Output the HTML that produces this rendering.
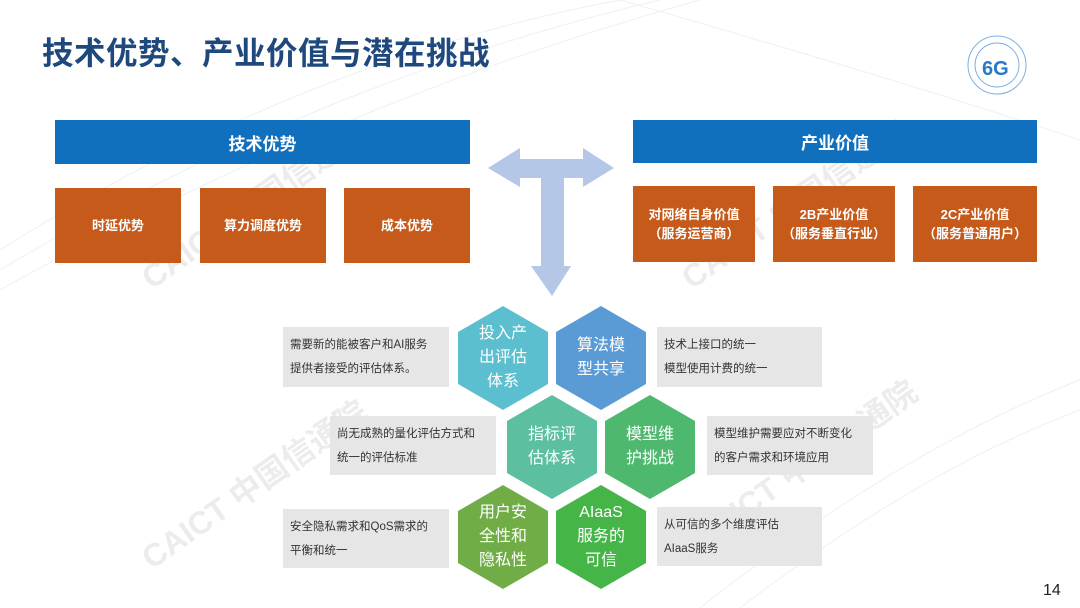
<!DOCTYPE html>
<html><head><meta charset="utf-8"><style>
html,body{margin:0;padding:0;background:#fff;}
body{width:1080px;height:608px;position:relative;overflow:hidden;font-family:"Liberation Sans","Noto Sans CJK SC",sans-serif;}
.a{position:absolute;box-sizing:border-box;}
.title{left:42px;top:28px;font-size:31.5px;font-weight:bold;color:#1f497d;letter-spacing:0.5px;}
.bar{background:#1070bd;color:#fff;font-weight:bold;font-size:17px;display:flex;align-items:center;justify-content:center;}
.or{background:#c55a1a;color:#fff;font-weight:bold;font-size:13px;display:flex;align-items:center;justify-content:center;text-align:center;line-height:19px;}
.gb{background:#e7e6e6;color:#333;font-size:11.5px;line-height:24px;padding:6px 0 0 7px;}
.ht{position:absolute;color:#fff;font-size:16px;line-height:24px;text-align:center;width:90px;}
.wm{position:absolute;color:rgba(160,160,170,0.2);font-weight:bold;font-size:32px;transform:rotate(-35deg);white-space:nowrap;}
</style></head><body>
<svg class="a" style="left:0;top:0" width="1080" height="608">
<g stroke="#edf0f5" stroke-width="1" fill="none">
<path d="M0 250 Q300 60 620 0"/><path d="M0 270 Q320 80 660 0"/><path d="M0 290 Q340 100 700 0"/>
<path d="M700 608 Q900 450 1080 380"/><path d="M740 608 Q920 470 1080 410"/>
<path d="M620 0 Q900 80 1080 140"/>
</g>
<polygon fill="#b4c7e7" points="488,168 520,148 520,159 583,159 583,148 614,168 583,187 583,178 564,178 564,266 571,266 552,296 531,266 541,266 541,178 520,178 520,187"/>
<g>
<polygon fill="#5bbfcf" points="503,306 548,332 548,384 503,410 458,384 458,332"/>
<polygon fill="#5b9bd5" points="601,306 646,332 646,384 601,410 556,384 556,332"/>
<polygon fill="#5bbfa0" points="552,395 597,421 597,473 552,499 507,473 507,421"/>
<polygon fill="#4db86e" points="650,395 695,421 695,473 650,499 605,473 605,421"/>
<polygon fill="#70ad47" points="503,485 548,511 548,563 503,589 458,563 458,511"/>
<polygon fill="#45b548" points="601,485 646,511 646,563 601,589 556,563 556,511"/>
</g>
<g fill="none" stroke="#7fb0e0" stroke-width="1">
<circle cx="997" cy="65" r="29"/><circle cx="997" cy="65" r="22"/>
</g>
<text x="982" y="75" font-family="Liberation Sans" font-weight="bold" font-size="20" fill="#2a78c8">6G</text>
</svg>
<div class="wm" style="left:120px;top:180px;">CAICT 中国信通院</div>
<div class="wm" style="left:660px;top:180px;">CAICT 中国信通院</div>
<div class="wm" style="left:120px;top:460px;">CAICT 中国信通院</div>
<div class="wm" style="left:670px;top:440px;">CAICT 中国信通院</div>
<div class="a title">技术优势、产业价值与潜在挑战</div>
<div class="a bar" style="left:55px;top:120px;width:415px;height:44px;">技术优势</div>
<div class="a bar" style="left:633px;top:120px;width:404px;height:43px;">产业价值</div>
<div class="a or" style="left:55px;top:188px;width:126px;height:75px;">时延优势</div>
<div class="a or" style="left:200px;top:188px;width:126px;height:75px;">算力调度优势</div>
<div class="a or" style="left:344px;top:188px;width:126px;height:75px;">成本优势</div>
<div class="a or" style="left:633px;top:186px;width:122px;height:76px;">对网络自身价值<br>（服务运营商）</div>
<div class="a or" style="left:773px;top:186px;width:122px;height:76px;">2B产业价值<br>（服务垂直行业）</div>
<div class="a or" style="left:913px;top:186px;width:124px;height:76px;">2C产业价值<br>（服务普通用户）</div>
<div class="a gb" style="left:283px;top:327px;width:166px;height:60px;">需要新的能被客户和AI服务<br>提供者接受的评估体系。</div>
<div class="a gb" style="left:657px;top:327px;width:165px;height:60px;">技术上接口的统一<br>模型使用计费的统一</div>
<div class="a gb" style="left:330px;top:416px;width:166px;height:59px;">尚无成熟的量化评估方式和<br>统一的评估标准</div>
<div class="a gb" style="left:707px;top:416px;width:166px;height:59px;">模型维护需要应对不断变化<br>的客户需求和环境应用</div>
<div class="a gb" style="left:283px;top:509px;width:166px;height:59px;">安全隐私需求和QoS需求的<br>平衡和统一</div>
<div class="a gb" style="left:657px;top:507px;width:165px;height:59px;">从可信的多个维度评估<br>AIaaS服务</div>
<div class="ht" style="left:458px;top:322px;">投入产<br>出评估<br>体系</div>
<div class="ht" style="left:556px;top:334px;">算法模<br>型共享</div>
<div class="ht" style="left:507px;top:423px;">指标评<br>估体系</div>
<div class="ht" style="left:605px;top:423px;">模型维<br>护挑战</div>
<div class="ht" style="left:458px;top:501px;">用户安<br>全性和<br>隐私性</div>
<div class="ht" style="left:556px;top:501px;">AIaaS<br>服务的<br>可信</div>
<div class="a" style="left:1043px;top:582px;font-size:16px;color:#222;">14</div>
</body></html>
